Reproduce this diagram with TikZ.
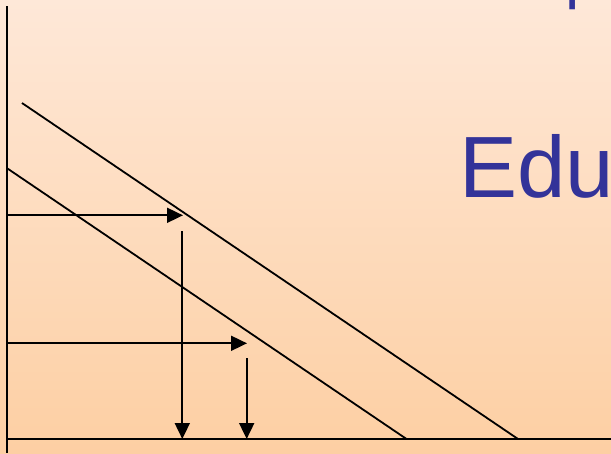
\documentclass[tikz,border=0pt]{standalone}
\usepackage{fontspec}
\setmainfont{Liberation Sans}
\usetikzlibrary{arrows.meta}
\definecolor{bgtop}{RGB}{254,232,216}
\definecolor{bgbot}{RGB}{253,207,163}
\definecolor{titleblue}{RGB}{51,51,153}
\begin{document}
\begin{tikzpicture}[x=1pt,y=-1pt,
  axis/.style={line width=2.2pt,black},
  curve/.style={line width=1.8pt,black},
  arr/.style={line width=1.8pt,black,-{Triangle[length=16pt,width=15pt]}},
  big/.style={text=titleblue,inner sep=0pt,anchor=base west}]
\fill[top color=bgtop,bottom color=bgbot] (0,0) rectangle (611,453);
\useasboundingbox (0,0) rectangle (611,453);
% axes
\coordinate (ytop) at (6.7,6);
\coordinate (ybot) at (6.7,453);
\coordinate (origin) at (6.7,439);
\coordinate (xend) at (611,439);
\draw[axis] (ytop) -- (ybot);
\draw[axis] (origin) -- (xend);
% two parallel lines
\coordinate (u1) at (22,103);
\coordinate (u2) at (518,439);
\coordinate (l1) at (6.7,168);
\coordinate (l2) at (406.5,439);
\draw[curve] (u1) -- (u2);
\draw[curve] (l1) -- (l2);
% arrows
\coordinate (h1s) at (6.7,215.3);
\coordinate (h1e) at (183,215.3);
\coordinate (v1s) at (182.3,231);
\coordinate (v1e) at (182.3,439);
\coordinate (h2s) at (6.7,343.3);
\coordinate (h2e) at (247,343.3);
\coordinate (v2s) at (246.7,358);
\coordinate (v2e) at (246.7,439);
\draw[arr] (h1s) -- (h1e);
\draw[arr] (v1s) -- (v1e);
\draw[arr] (h2s) -- (h2e);
\draw[arr] (v2s) -- (v2e);
% text
\node[big,font=\fontsize{87}{87}\selectfont] (edu) at (459,197) {Edu};
\node[big,font=\fontsize{64}{64}\selectfont] (ptxt) at (565.5,-4) {p};
\end{tikzpicture}
\end{document}
